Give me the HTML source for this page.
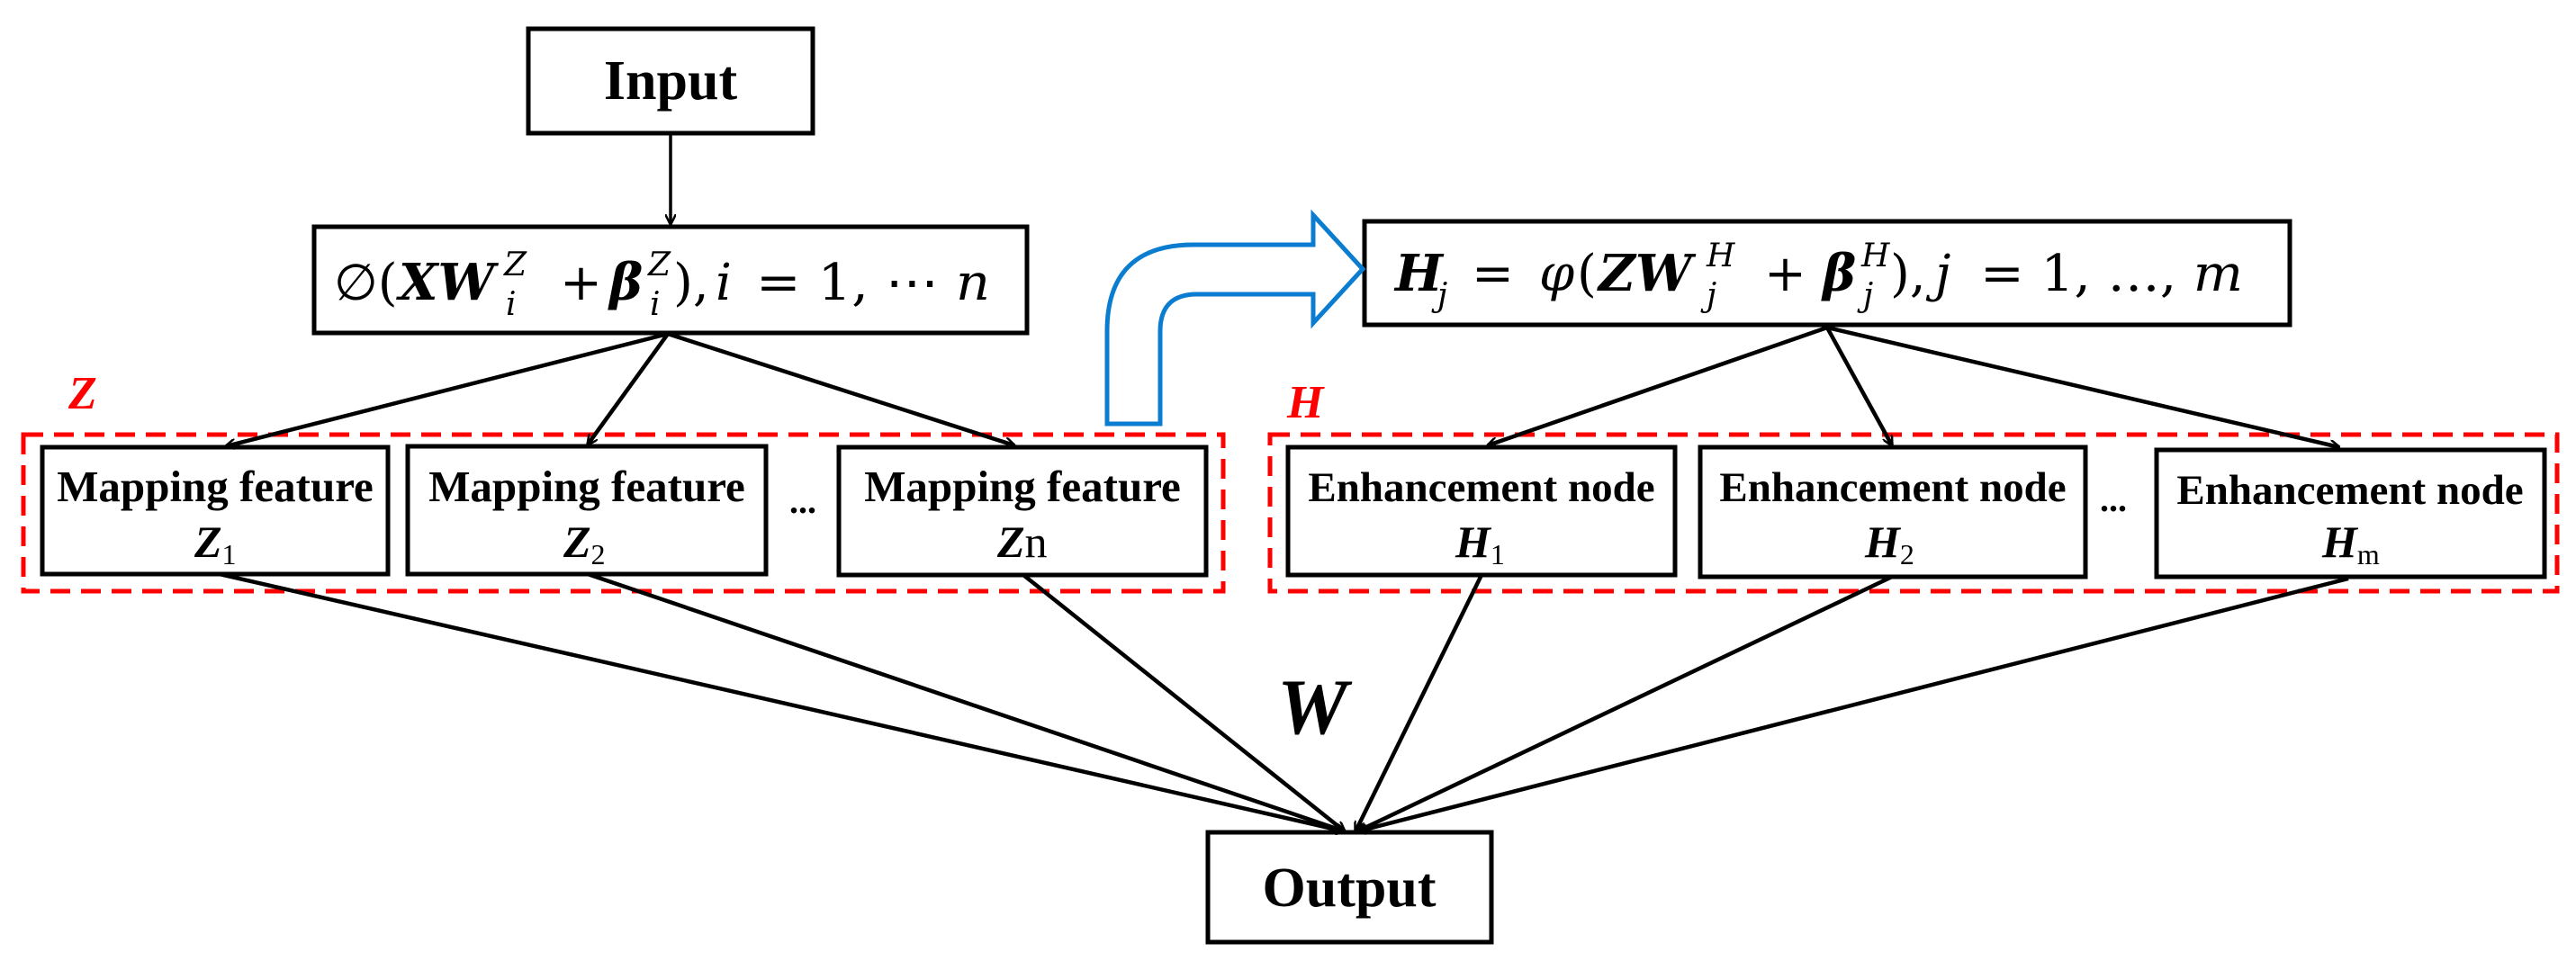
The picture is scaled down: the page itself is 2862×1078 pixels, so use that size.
<!DOCTYPE html>
<html><head><meta charset="utf-8"><style>
html,body{margin:0;padding:0;background:#fff;}
svg{display:block;}
.tb{font-family:"Liberation Serif",serif;font-weight:bold;}
.m{font-family:"DejaVu Serif","Liberation Serif",serif;}
</style></head><body>
<svg width="2862" height="1078" viewBox="0 0 2862 1078" xmlns="http://www.w3.org/2000/svg">
<defs>
<marker id="ah" markerWidth="12" markerHeight="12" refX="11" refY="6" orient="auto" markerUnits="userSpaceOnUse" viewBox="0 0 12 12">
<path d="M0,0 L12,6 L0,12" fill="none" stroke="#000" stroke-width="2.5"/>
</marker>
</defs>
<g fill="none" stroke="#000" stroke-width="5">
<rect x="587" y="32" width="316" height="116"/>
<rect x="349" y="252" width="792" height="118"/>
<rect x="1516" y="246" width="1028" height="115"/>
<rect x="47" y="497" width="384" height="141"/>
<rect x="453" y="496" width="398" height="142"/>
<rect x="932" y="497" width="408" height="142"/>
<rect x="1431" y="497" width="430" height="142"/>
<rect x="1889" y="497" width="428" height="144"/>
<rect x="2396" y="500" width="431" height="141"/>
<rect x="1342" y="925" width="315" height="122"/>
</g>
<g fill="none" stroke="#f00" stroke-width="5" stroke-dasharray="22,12">
<rect x="26" y="483" width="1333" height="174"/>
<rect x="1411" y="483" width="1430" height="174"/>
</g>
<path d="M1230,471 L1230,368 Q1230,272 1326,272 L1459,272 L1459,239 L1514,299 L1459,359 L1459,327 L1330,327 Q1289,327 1289,368 L1289,471 Z" fill="#fff" stroke="#0b7dd1" stroke-width="5" stroke-linejoin="miter"/>
<g stroke="#000" stroke-width="4.5" fill="none">
<line x1="745" y1="148" x2="745" y2="249" stroke-width="3.5" marker-end="url(#ah)"/>
<line x1="742" y1="371" x2="251" y2="496" marker-end="url(#ah)"/>
<line x1="742" y1="371" x2="653" y2="494" marker-end="url(#ah)"/>
<line x1="742" y1="371" x2="1127" y2="495" marker-end="url(#ah)"/>
<line x1="2030" y1="364" x2="1653" y2="495" marker-end="url(#ah)"/>
<line x1="2030" y1="364" x2="2102" y2="495" marker-end="url(#ah)"/>
<line x1="2030" y1="364" x2="2599" y2="497" marker-end="url(#ah)"/>
<line x1="244" y1="638" x2="1494" y2="924" marker-end="url(#ah)"/>
<line x1="653" y1="638" x2="1494" y2="924" marker-end="url(#ah)"/>
<line x1="1137" y1="639" x2="1494" y2="924" marker-end="url(#ah)"/>
<line x1="1646" y1="639" x2="1506" y2="924" marker-end="url(#ah)"/>
<line x1="2102" y1="641" x2="1508" y2="924" marker-end="url(#ah)"/>
<line x1="2609" y1="643" x2="1508" y2="924" marker-end="url(#ah)"/>
</g>
<g class="tb" fill="#000" text-anchor="middle">
<text x="745" y="110" font-size="62">Input</text>
<text x="1499" y="1007" font-size="62">Output</text>
<text x="239" y="557" font-size="49">Mapping feature</text>
<text x="652" y="557" font-size="49">Mapping feature</text>
<text x="1136" y="557" font-size="49">Mapping feature</text>
<text x="1646" y="557" font-size="47">Enhancement node</text>
<text x="2103" y="557" font-size="47">Enhancement node</text>
<text x="2611" y="560" font-size="47">Enhancement node</text>
<text x="892" y="570" font-size="40">...</text>
<text x="2348" y="568" font-size="40">...</text>
</g>
<g class="tb" fill="#000" font-size="50">
<text x="216" y="619" font-style="italic">Z<tspan font-style="normal" font-weight="normal" font-size="32" dy="8">1</tspan></text>
<text x="626" y="619" font-style="italic">Z<tspan font-style="normal" font-weight="normal" font-size="32" dy="8">2</tspan></text>
<text x="1108" y="619" font-style="italic">Z<tspan font-style="normal" font-weight="normal">n</tspan></text>
<text x="1617" y="619" font-style="italic">H<tspan font-style="normal" font-weight="normal" font-size="32" dy="8">1</tspan></text>
<text x="2072" y="619" font-style="italic">H<tspan font-style="normal" font-weight="normal" font-size="32" dy="8">2</tspan></text>
<text x="2580" y="619" font-style="italic">H<tspan font-style="normal" font-weight="normal" font-size="32" dy="8">m</tspan></text>
</g>
<g class="tb" font-style="italic">
<text x="76" y="454" font-size="52" fill="#f00">Z</text>
<text x="1430" y="464" font-size="52" fill="#f00">H</text>
<text x="1419" y="815" font-size="88" fill="#000">W</text>
</g>
<g class="m" fill="#000" font-size="56">
<text x="371" y="333">∅(</text>
<text x="443" y="333" font-weight="bold" font-style="italic">XW</text>
<text x="560" y="306" font-size="36" font-style="italic">Z</text>
<text x="562" y="350" font-size="36" font-style="italic">i</text>
<text x="622" y="333">+</text>
<text x="677" y="333" font-weight="bold" font-style="italic">β</text>
<text x="720" y="306" font-size="36" font-style="italic">Z</text>
<text x="722" y="350" font-size="36" font-style="italic">i</text>
<text x="748" y="333">),</text>
<text x="795" y="333" font-style="italic">i</text>
<text x="840" y="333" textLength="260" lengthAdjust="spacingAndGlyphs">= 1, ⋯ <tspan font-style="italic">n</tspan></text>
</g>
<g class="m" fill="#000" font-size="56">
<text x="1550" y="323" font-weight="bold" font-style="italic">H</text>
<text x="1597" y="340" font-size="36" font-style="italic">j</text>
<text x="1635" y="323">=</text>
<text x="1710" y="323" font-style="italic">φ</text>
<text x="1752" y="323">(</text>
<text x="1776" y="323" font-weight="bold" font-style="italic">ZW</text>
<text x="1896" y="296" font-size="36" font-style="italic">H</text>
<text x="1896" y="340" font-size="36" font-style="italic">j</text>
<text x="1960" y="323">+</text>
<text x="2025" y="323" font-weight="bold" font-style="italic">β</text>
<text x="2068" y="296" font-size="36" font-style="italic">H</text>
<text x="2070" y="340" font-size="36" font-style="italic">j</text>
<text x="2100" y="323">),</text>
<text x="2150" y="323" font-style="italic">j</text>
<text x="2200" y="323" textLength="292" lengthAdjust="spacingAndGlyphs">= 1, …, <tspan font-style="italic">m</tspan></text>
</g>
</svg>
</body></html>
